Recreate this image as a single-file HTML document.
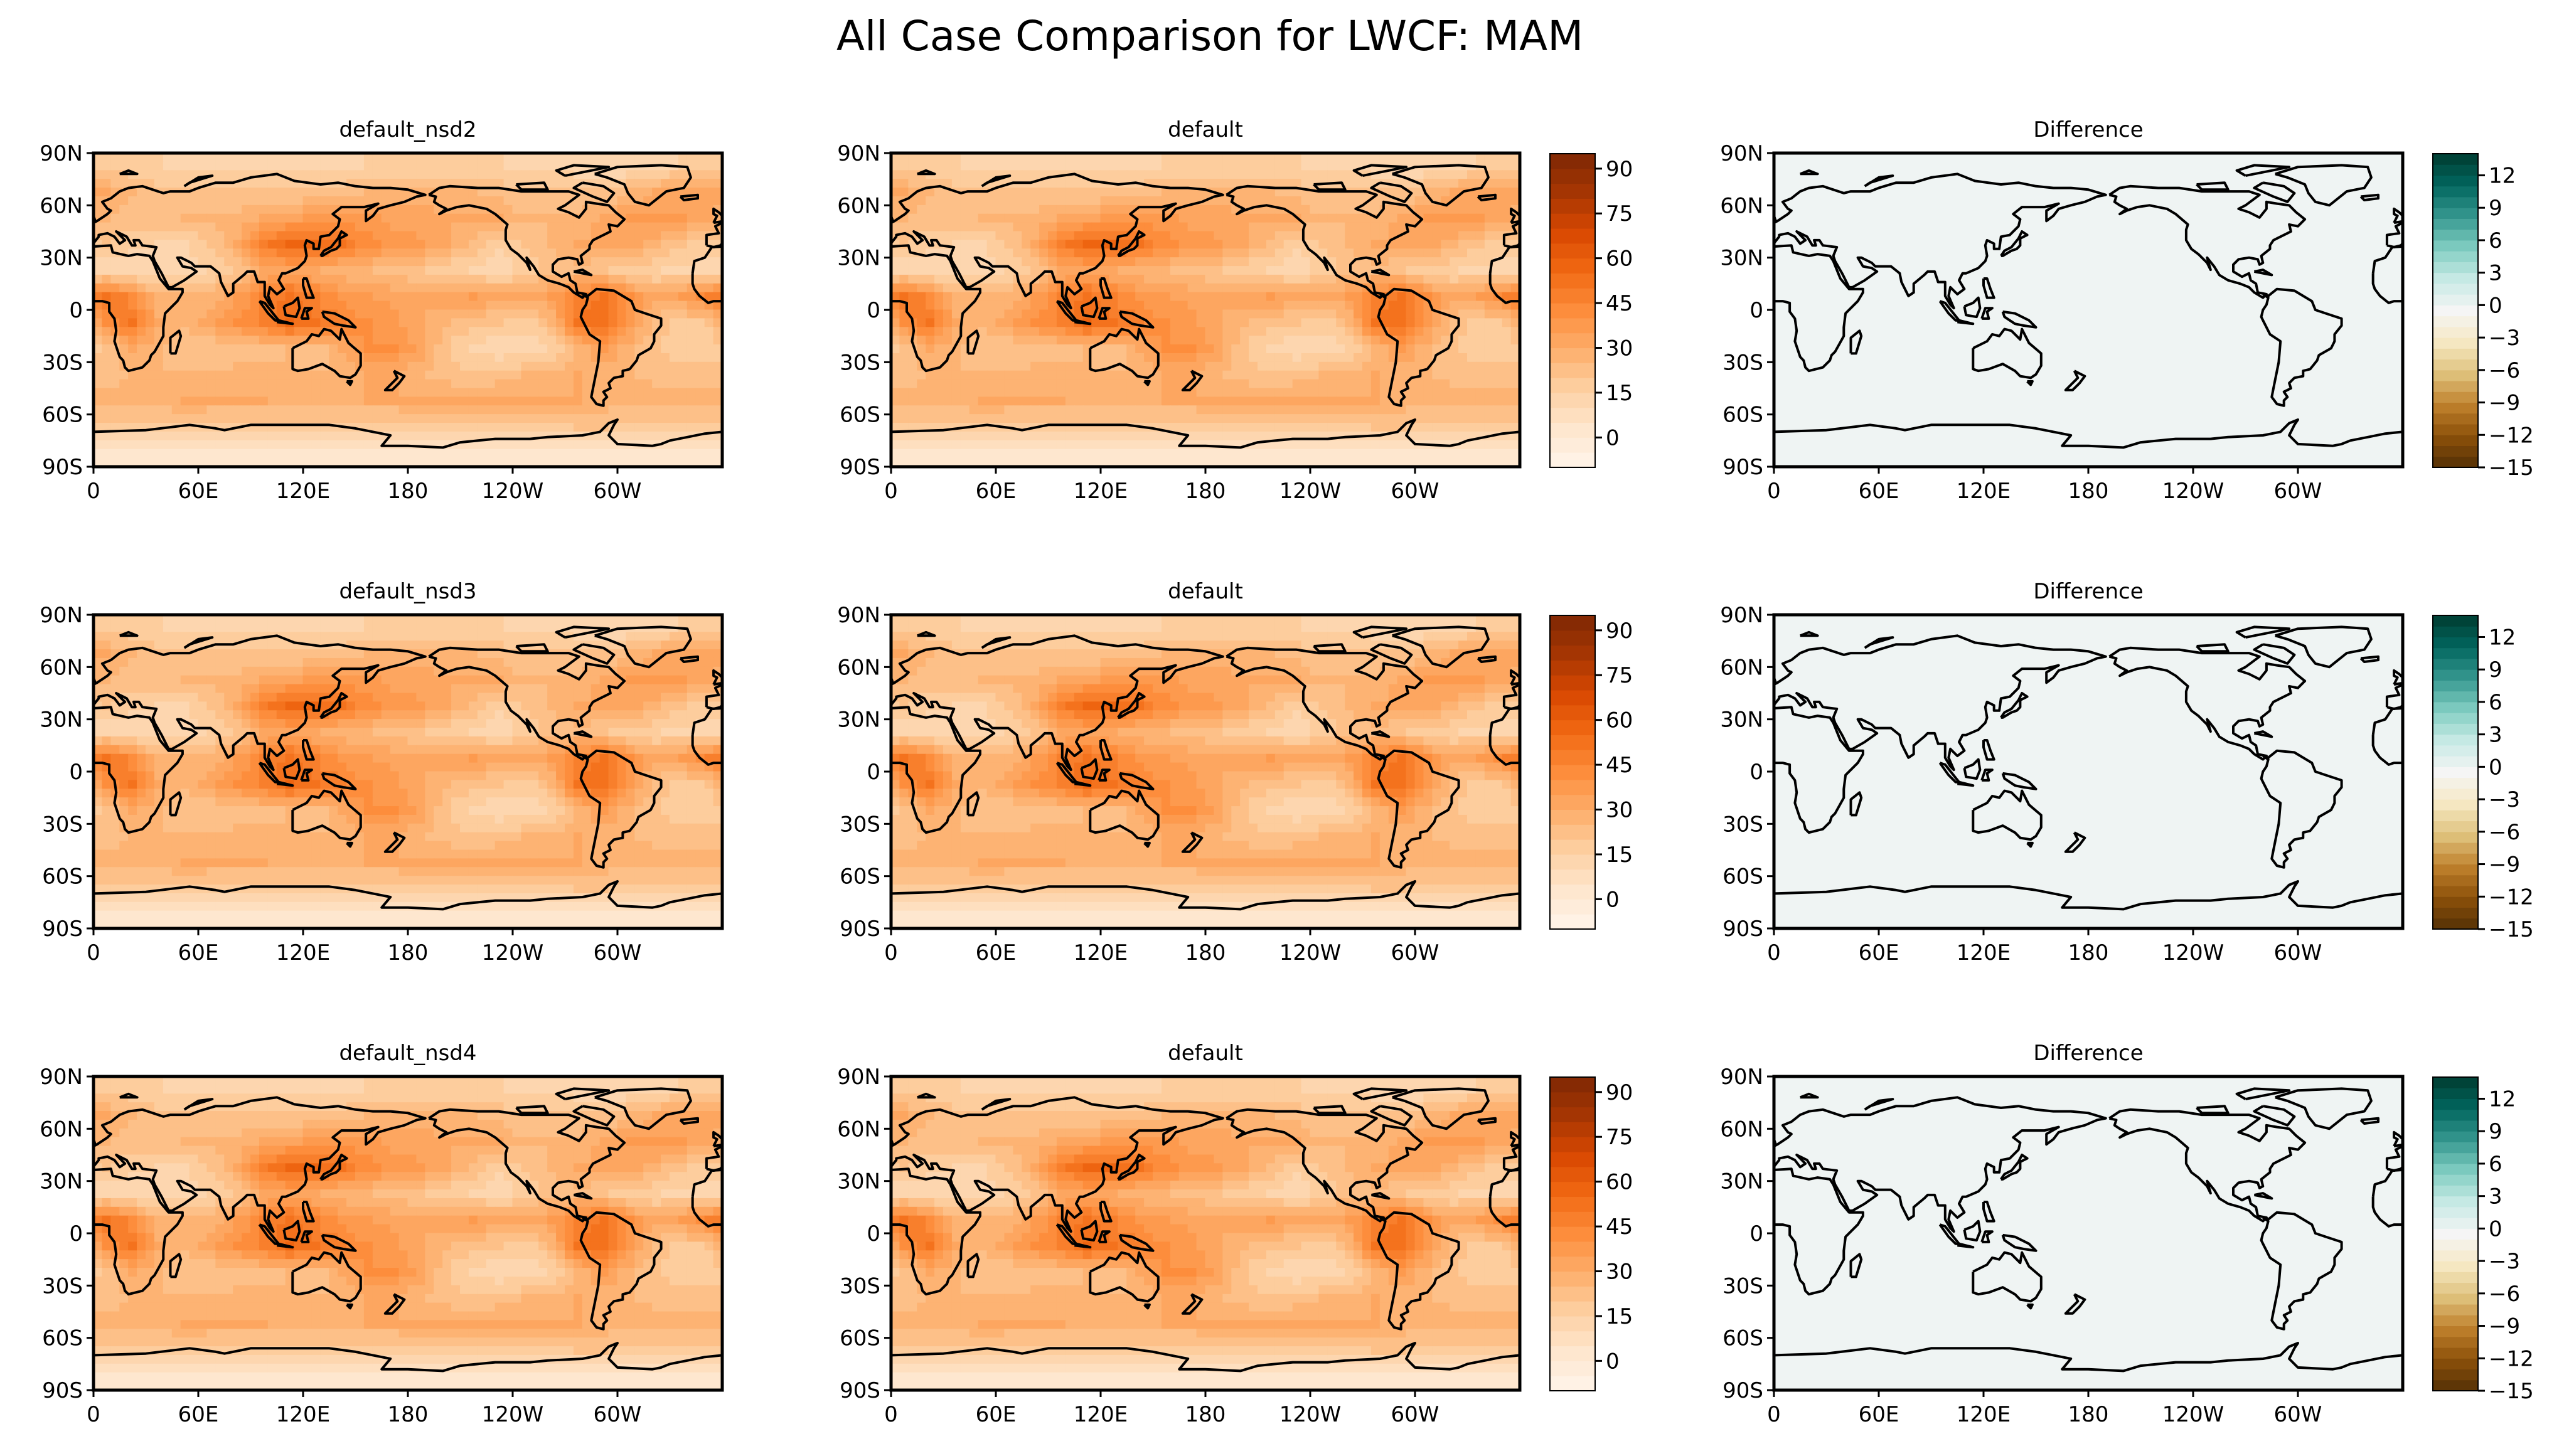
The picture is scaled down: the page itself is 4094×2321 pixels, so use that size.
<!DOCTYPE html>
<html><head><meta charset="utf-8"><style>
html,body{margin:0;padding:0;background:#fff;}
svg{display:block;font-family:"DejaVu Sans","Liberation Sans",sans-serif;}
</style></head><body>
<svg id="fig" width="4094" height="2321" viewBox="0 0 4094 2321" xmlns="http://www.w3.org/2000/svg">
<rect width="4094" height="2321" fill="#fff"/>
<text x="1928" y="80" font-size="66" text-anchor="middle">All Case Comparison for LWCF: MAM</text>
</svg>
<script>
// ---- data ----
const lonCenters = [7.5,22.5,37.5,52.5,67.5,82.5,97.5,112.5,127.5,142.5,157.5,172.5,187.5,202.5,217.5,232.5,247.5,262.5,277.5,292.5,307.5,322.5,337.5,352.5];
const latCenters = [82.5,67.5,52.5,37.5,22.5,7.5,-7.5,-22.5,-37.5,-52.5,-67.5,-82.5];
const lwcfRow82N = [18,16,15,14,14,14,14,14,14,14,15,16,16,16,15,15,14,14,12,10,10,12,16,18];
const lwcfRow67N = [30,25,22,20,20,20,20,20,20,22,25,25,27,27,25,23,20,20,20,20,25,30,33,33];
const lwcfRow52N = [25,23,23,25,27,27,30,33,36,38,36,33,33,30,30,30,25,25,27,30,35,37,35,30];
const lwcfRow37N = [20,17,14,14,20,30,48,56,56,50,42,38,35,30,23,16,20,25,30,33,33,27,20,18];
const lwcfRow22N = [12,10,10,12,16,20,30,33,30,27,25,23,20,17,14,12,17,23,23,20,17,15,14,12];
const lwcfRow7N  = [52,42,27,25,27,35,45,52,45,38,35,33,30,33,35,33,30,35,45,52,40,30,35,45];
const lwcfRow7S  = [40,50,30,27,33,40,45,55,52,45,40,37,30,25,22,20,17,25,52,52,37,23,18,20];
const lwcfRow22S = [20,30,25,20,20,23,23,25,20,30,40,40,33,20,14,11,11,15,25,35,27,20,16,16];
const lwcfRow37S = [23,25,25,25,25,27,27,25,25,27,30,30,25,23,20,23,25,27,30,27,25,23,23,23];
const lwcfRow52S = [27,27,28,30,30,30,30,28,28,28,30,30,30,30,30,30,30,30,30,28,28,28,28,27];
const lwcfRow67S = [17,17,17,17,15,15,15,17,17,17,15,15,17,17,17,17,17,17,20,20,17,17,17,17];
const lwcfRow82S = [3,3,3,3,3,3,3,3,3,3,3,3,3,3,3,3,3,3,3,3,3,3,3,3];
const testCases = ["default_nsd2","default_nsd3","default_nsd4"];
const ctrlCase = "default";
const fieldLevels = [-10,-5,0,5,10,15,20,25,30,35,40,45,50,55,60,65,70,75,80,85,90,95];
const fieldTicks = [0,15,30,45,60,75,90];
const diffLevels = [-15,-14,-13,-12,-11,-10,-9,-8,-7,-6,-5,-4,-3,-2,-1,0,1,2,3,4,5,6,7,8,9,10,11,12,13,14];
const diffTicks = [-15,-12,-9,-6,-3,0,3,6,9,12];
const latTicks = [90,60,30,0,-30,-60,-90];
const latTickLabels = ["90N","60N","30N","0","30S","60S","90S"];
const lonTicks = [0,60,120,180,240,300];
const lonTickLabels = ["0","60E","120E","180","120W","60W"];

const field = [lwcfRow82N,lwcfRow67N,lwcfRow52N,lwcfRow37N,lwcfRow22N,lwcfRow7N,lwcfRow7S,lwcfRow22S,lwcfRow37S,lwcfRow52S,lwcfRow67S,lwcfRow82S];

// coastlines (lon, lat)
const coasts = [
 [[-17,21],[-16,28],[-10,30],[-6,36],[10,37],[11,33],[20,31],[25,32],[32,31],[34,28],[38,18],[43,12],[51,12],[51,10],[48,5],[41,-2],[40,-10],[40,-15],[35,-24],[33,-26],[32,-29],[28,-33],[20,-35],[18,-33],[17,-29],[15,-27],[12,-18],[13,-12],[12,-5],[9,-1],[9,4],[5,5],[0,5],[-5,5],[-8,4],[-13,8],[-16,12],[-17,15],[-17,21]],
 [[44,-25],[47,-25],[50,-15],[49,-12],[44,-16],[44,-25]],
 [[-9,37],[-9,43],[-2,44],[-4,48],[2,51],[5,53],[8,55],[10,57],[8,58],[5,62],[10,64],[15,68],[20,70],[28,71],[40,67],[44,68],[55,68],[60,70],[70,73],[80,73],[90,76],[105,78],[115,74],[130,72],[140,73],[150,71],[160,70],[170,70],[180,69],[190,66],[185,65],[178,62],[170,60],[163,58],[160,54],[156,51],[156,57],[163,61],[155,59],[142,59],[137,55],[141,52],[140,48],[135,43],[130,42],[129,35],[126,35],[126,38],[122,40],[121,37],[122,31],[121,28],[117,24],[110,21],[108,21],[106,17],[109,12],[105,9],[101,13],[100,8],[103,1],[101,3],[98,8],[98,16],[94,16],[92,22],[88,22],[86,20],[80,15],[80,10],[77,8],[73,16],[72,21],[67,25],[58,25],[56,27],[50,30],[48,30],[51,25],[56,24],[59,22],[52,17],[45,13],[43,13],[39,21],[35,28],[34,31],[36,36],[28,37],[26,40],[23,40],[24,37],[22,37],[19,42],[13,45],[16,42],[18,40],[15,38],[12,42],[8,44],[3,43],[3,42],[-1,37],[-5,36],[-9,37]],
 [[130,31],[132,34],[136,36],[140,41],[142,45],[145,43],[141,41],[141,37],[139,35],[136,34],[131,31],[130,31]],
 [[-5,50],[1,51],[0,54],[-2,56],[-5,58],[-5,55],[-3,54],[-5,50]],
 [[95,5],[98,4],[106,-6],[104,-6],[100,-2],[95,5]],
 [[109,2],[110,-3],[116,-4],[118,1],[117,7],[114,4],[109,2]],
 [[105,-7],[114,-8],[106,-6],[105,-7]],
 [[131,-1],[138,-2],[146,-6],[150,-10],[143,-9],[138,-8],[132,-4],[131,-1]],
 [[119,-5],[121,1],[125,1],[122,-1],[123,-5],[119,-5]],
 [[120,18],[122,18],[124,12],[126,7],[122,7],[120,14],[120,18]],
 [[114,-22],[114,-34],[117,-35],[123,-34],[131,-31],[138,-35],[141,-38],[147,-39],[150,-37],[153,-32],[153,-25],[146,-19],[142,-11],[141,-17],[136,-12],[132,-11],[129,-15],[125,-14],[122,-18],[114,-22]],
 [[145,-41],[148,-41],[147,-43],[145,-41]],
 [[172,-35],[178,-38],[175,-42],[171,-46],[167,-46],[172,-41],[174,-39],[172,-35]],
 [[-168,66],[-162,70],[-156,71],[-140,70],[-128,70],[-115,68],[-95,68],[-88,68],[-82,66],[-90,60],[-94,58],[-88,56],[-82,53],[-78,58],[-78,62],[-72,61],[-65,60],[-61,56],[-56,52],[-60,48],[-65,49],[-64,45],[-66,44],[-70,42],[-74,40],[-76,37],[-76,35],[-81,31],[-80,27],[-82,26],[-83,29],[-88,30],[-94,29],[-97,26],[-97,22],[-92,19],[-88,21],[-87,17],[-84,15],[-83,10],[-78,9],[-80,7],[-85,10],[-88,13],[-93,15],[-100,17],[-105,20],[-108,25],[-112,30],[-110,23],[-112,27],[-117,32],[-121,35],[-124,40],[-124,46],[-123,49],[-130,55],[-135,58],[-145,60],[-152,59],[-158,57],[-162,55],[-158,58],[-162,60],[-165,62],[-164,65],[-168,66]],
 [[-73,78],[-60,82],[-35,83],[-20,82],[-18,76],[-22,70],[-32,68],[-42,60],[-50,62],[-54,67],[-56,72],[-66,76],[-73,78]],
 [[-80,73],[-68,71],[-62,67],[-66,62],[-74,65],[-85,70],[-80,73]],
 [[-90,77],[-75,80],[-65,82],[-85,83],[-95,80],[-90,77]],
 [[-118,72],[-102,73],[-100,69],[-115,69],[-118,72]],
 [[-85,22],[-75,20],[-80,23],[-85,22]],
 [[-80,9],[-77,8],[-72,12],[-62,11],[-52,5],[-50,0],[-44,-2],[-35,-5],[-35,-9],[-39,-14],[-39,-18],[-41,-22],[-48,-26],[-49,-29],[-53,-34],[-57,-35],[-57,-38],[-62,-39],[-65,-42],[-64,-45],[-68,-47],[-66,-50],[-68,-52],[-68,-55],[-72,-54],[-75,-50],[-74,-45],[-73,-40],[-71,-30],[-70,-18],[-76,-14],[-80,-6],[-81,-4],[-80,0],[-78,3],[-77,7],[-80,9]],
 [[-24,65],[-14,66],[-14,64],[-22,63],[-24,65]],
 [[15,78],[20,80],[25,78],[15,78]],
 [[52,71],[60,76],[68,77],[55,73],[52,71]],
 [[0,-70],[30,-69],[55,-66],[70,-68],[75,-69],[90,-66],[110,-66],[135,-66],[150,-68],[165,-71],[170,-72],[165,-78],[180,-78],[200,-79],[210,-76],[230,-74],[250,-74],[260,-73],[280,-72],[290,-70],[295,-65],[300,-63],[298,-66],[295,-72],[300,-77],[320,-78],[325,-77],[330,-75],[340,-73],[350,-71],[360,-70]]
];

// ---- colormaps ----
const orangesStops = ["#fff5eb","#fee6ce","#fdd0a2","#fdae6b","#fd8d3c","#f16913","#d94801","#a63603","#7f2704"];
const brbgStops = ["#543005","#8c510a","#bf812d","#dfc27d","#f6e8c3","#f5f5f5","#c7eae5","#80cdc1","#35978f","#01665e","#003c30"];
function hex(h){return [parseInt(h.slice(1,3),16),parseInt(h.slice(3,5),16),parseInt(h.slice(5,7),16)];}
function cmap(stops,t){t=Math.max(0,Math.min(1,t));const n=stops.length-1;const f=t*n;const i=Math.min(n-1,Math.floor(f));const r=f-i;const a=hex(stops[i]),b=hex(stops[i+1]);return "rgb("+a.map((v,k)=>Math.round(v+(b[k]-v)*r)).join(",")+")";}
function levelColor(stops,levels,v){
  let k=0; for(let i=0;i<levels.length-1;i++){ if(v>=levels[i]) k=i; }
  return cmap(stops,(k+0.5)/(levels.length-1));
}
function diffColor(v){ return cmap(brbgStops,(v+15)/30+0.012); }
function sample(lon,lat){
  let fx=(lon-7.5)/15; let fy=(82.5-lat)/15;
  fy=Math.max(0,Math.min(latCenters.length-1,fy));
  const y0=Math.min(latCenters.length-2,Math.floor(fy)); const ry=fy-y0;
  const x0=Math.floor(fx); const rx=fx-x0;
  const n=lonCenters.length; const xa=((x0%n)+n)%n, xb=(xa+1)%n;
  const a=field[y0][xa]*(1-rx)+field[y0][xb]*rx;
  const b=field[y0+1][xa]*(1-rx)+field[y0+1][xb]*rx;
  return a*(1-ry)+b*ry;
}

const NS="http://www.w3.org/2000/svg";
const svg=document.getElementById("fig");
function el(tag,attrs,parent){const e=document.createElementNS(NS,tag);for(const k in attrs)e.setAttribute(k,attrs[k]);(parent||svg).appendChild(e);return e;}

const PW=1002, PH=500;
const colX=[149,1420,2827];
const rowY=[244,980,1716];
const cbX=[2470,3877];
let clipId=0;

function drawMap(L,T,isDiff,title){
  const xs=lon=>L+lon/360*PW, ys=lat=>T+(90-lat)/180*PH;
  const g=el("g",{});
  
  
  const cid="clip"+(clipId++);
  const cp=el("clipPath",{id:cid},g); el("rect",{x:L,y:T,width:PW,height:PH},cp);
  const fg=el("g",{"clip-path":"url(#"+cid+")"},g);
  
  
  const step=5;
  for(let lat=90;lat>-90;lat-=step){
    for(let lon=0;lon<360;lon+=step){
      const v=sample(lon+step/2,lat-step/2);
      const c=isDiff?diffColor(v-sample(lon+step/2,lat-step/2)):levelColor(orangesStops,fieldLevels,v);
      el("rect",{x:xs(lon)-0.5,y:ys(lat)-0.5,width:PW*step/360+1,height:PH*step/180+1,fill:c},fg);
    }
  }
  const cg=el("g",{"clip-path":"url(#"+cid+")",fill:"none",stroke:"#000","stroke-width":4,"stroke-linejoin":"round"},g);
  
  
  coasts.forEach(poly=>{
    [0,360].forEach(off=>{
      const d=poly.map((p,i)=>(i?"L":"M")+xs(p[0]+off).toFixed(1)+","+ys(p[1]).toFixed(1)).join("");
      el("path",{d:d},cg);
    });
  });
  const fr=el("rect",{x:L,y:T,width:PW,height:PH,fill:"none",stroke:"#000","stroke-width":5},g);
  
  
  latTicks.forEach((lt,i)=>{
    const y=ys(lt);
    el("line",{x1:L-11,x2:L,y1:y,y2:y,stroke:"#000","stroke-width":3},g);
    const t=el("text",{x:L-17,y:y+12,"font-size":34,"text-anchor":"end"},g);
    t.textContent=latTickLabels[i];
    
    
  });
  lonTicks.forEach((ln,i)=>{
    const x=xs(ln);
    el("line",{x1:x,x2:x,y1:T+PH,y2:T+PH+11,stroke:"#000","stroke-width":3},g);
    const t=el("text",{x:x,y:T+PH+50,"font-size":34,"text-anchor":"middle"},g);
    t.textContent=lonTickLabels[i];
    
    
  });
  const tt=el("text",{x:L+PW/2,y:T-26,"font-size":34,"text-anchor":"middle"},g);
  tt.textContent=title;
  
  
}

function drawColorbar(X,T,levels,stops,ticks){
  const W=72,H=500;
  const g=el("g",{});
  
  
  const lo=levels[0],hi=levels[levels.length-1];
  const yv=v=>T+H-(v-lo)/(hi-lo)*H;
  for(let i=0;i<levels.length-1;i++){
    const r=el("rect",{x:X,y:yv(levels[i+1])-0.5,width:W,height:yv(levels[i])-yv(levels[i+1])+1,fill:cmap(stops,(i+0.5)/(levels.length-1))},g);
    
    
  }
  el("rect",{x:X,y:T,width:W,height:H,fill:"none",stroke:"#000","stroke-width":2},g);
  ticks.forEach(tv=>{
    const y=yv(tv);
    el("line",{x1:X+W,x2:X+W+11,y1:y,y2:y,stroke:"#000","stroke-width":3},g);
    const t=el("text",{x:X+W+17,y:y+12,"font-size":34},g);
    t.textContent=tv<0?"\u2212"+Math.abs(tv):String(tv);
    
    
  });
}

for(let r=0;r<3;r++){
  drawMap(colX[0],rowY[r],false,testCases[r]);
  drawMap(colX[1],rowY[r],false,ctrlCase);
  drawMap(colX[2],rowY[r],true,"Difference");
  drawColorbar(cbX[0],rowY[r]+1,fieldLevels,orangesStops,fieldTicks);
  drawColorbar(cbX[1],rowY[r]+1,diffLevels,brbgStops,diffTicks);
}
</script>
</body></html>
